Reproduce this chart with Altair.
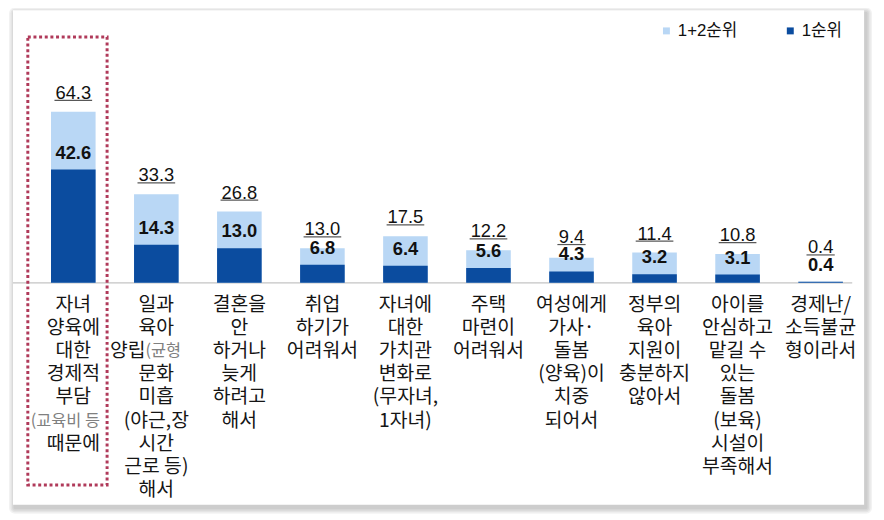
import altair as alt
import pandas as pd

# ---------------- data ----------------
CAT_LINES = [
    ["자녀", "양육에", "대한", "경제적", "부담", "(교육비 등", "때문에"],
    ["일과", "육아", ("양립", "(균형"), "문화", "미흡", "(야근,장", "시간", "근로 등)", "해서"],
    ["결혼을", "안", "하거나", "늦게", "하려고", "해서"],
    ["취업", "하기가", "어려워서"],
    ["자녀에", "대한", "가치관", "변화로", "(무자녀,", "1자녀)"],
    ["주택", "마련이", "어려워서"],
    ["여성에게", "가사·", "돌봄", "(양육)이", "치중", "되어서"],
    ["정부의", "육아", "지원이", "충분하지", "않아서"],
    ["아이를", "안심하고", "맡길 수", "있는", "돌봄", "(보육)", "시설이", "부족해서"],
    ["경제난/", "소득불균", "형이라서"],
]
TOP2 = [64.3, 33.3, 26.8, 13.0, 17.5, 12.2, 9.4, 11.4, 10.8, 0.4]
TOP1 = [42.6, 14.3, 13.0, 6.8, 6.4, 5.6, 4.3, 3.2, 3.1, 0.4]
SERIES = ["1+2순위", "1순위"]
GREY_PARTS = ["(교육비 등", "(균형"]

keys = ["".join(p if isinstance(p, str) else "".join(p) for p in lines) for lines in CAT_LINES]

bars_df = pd.DataFrame(
    [{"cat": k, "series": SERIES[0], "value": v} for k, v in zip(keys, TOP2)]
    + [{"cat": k, "series": SERIES[1], "value": v} for k, v in zip(keys, TOP1)]
)
labs_df = pd.DataFrame({"cat": keys, "top2": TOP2, "top1": TOP1})
rows = []
for k, lines in zip(keys, CAT_LINES):
    for i, ln in enumerate(lines):
        if isinstance(ln, tuple):
            rows.append({"cat": k, "line": i, "text": ln[0], "kind": "L"})
            rows.append({"cat": k, "line": i, "text": ln[1], "kind": "R"})
        else:
            rows.append({"cat": k, "line": i, "text": ln, "kind": "g" if ln in GREY_PARTS else "n"})
lines_df = pd.DataFrame(rows)

# ---------------- styles ----------------
LIGHT = "#b9d7f5"
DARK = "#0b4c9f"
NUMFONT = "Liberation Sans, Arial, Noto Sans CJK KR"
KFONT = "Noto Sans CJK KR"

W, H = 838, 188
X = alt.X("cat:N", sort=keys, scale=alt.Scale(paddingInner=0, paddingOuter=0), axis=None)
YS = alt.Scale(domain=[0, 70], nice=False, zero=True)
YL = alt.Y("line:Q", scale=alt.Scale(domain=[0, 8], range=[210, 397.2], nice=False, zero=False), axis=None)


def box(x1, x2, y1, y2, **mk):
    return alt.Chart(alt.Data(values=[{}])).mark_rect(**mk).encode(
        x=alt.value(x1), x2=alt.value(x2), y=alt.value(y1), y2=alt.value(y2)
    )


# frame with soft shadow
PX1, PX2, PY1, PY2 = -19, 840, -87, 412
shadows = [
    box(PX1 + 2 - s, PX2 + 2 + s, PY1 + 3 - s, PY2 + 3 + s, fill="#000000", opacity=0.05, cornerRadius=s)
    for s in (6, 4.5, 3, 1.5)
]
panel = box(PX1, PX2, PY1, PY2, fill="#ffffff")

baseline = alt.Chart(alt.Data(values=[{}])).mark_rule(color="#c4c4c4", strokeWidth=1.2).encode(
    x=alt.value(-19), x2=alt.value(828), y=alt.value(H)
)

bars = alt.Chart(bars_df).mark_bar(size=45).encode(
    x=X,
    y=alt.Y("value:Q", scale=YS, axis=None, stack=None),
    color=alt.Color(
        "series:N",
        scale=alt.Scale(domain=SERIES, range=[LIGHT, DARK]),
        legend=alt.Legend(
            orient="none", legendX=632, legendY=-75, direction="horizontal", title=None,
            symbolType="square", symbolSize=49, symbolStrokeWidth=0, labelFontSize=17,
            labelFont=NUMFONT, labelColor="#111111", labelOffset=3, columnPadding=44, padding=0,
        ),
    ),
)

base_labs = alt.Chart(labs_df).transform_calculate(
    tpos="max(datum.top2, datum.top1 + 5.8)",
    ulen="length(format(datum.top2, '.1f')) * 9.5",
)

total_text = base_labs.mark_text(
    dy=-13, baseline="alphabetic", fontSize=18.5, font=NUMFONT, color="#111111"
).encode(x=X, y=alt.Y("tpos:Q", scale=YS, axis=None), text=alt.Text("top2:Q", format=".1f"))

underline = base_labs.mark_tick(thickness=1.2, yOffset=-11.5, color="#111111").encode(
    x=X, y=alt.Y("tpos:Q", scale=YS, axis=None), size=alt.Size("ulen:Q", scale=None)
)

first_text = base_labs.mark_text(
    dy=-11, baseline="alphabetic", fontSize=18.5, font=NUMFONT, fontWeight="bold", color="#111111"
).encode(x=X, y=alt.Y("top1:Q", scale=YS, axis=None), text=alt.Text("top1:Q", format=".1f"))

lab_base = alt.Chart(lines_df)
lab_n = lab_base.transform_filter("datum.kind == 'n'").mark_text(
    baseline="middle", fontSize=19.5, font=KFONT, color="#151515"
).encode(x=X, y=YL, text="text:N")
lab_g = lab_base.transform_filter("datum.kind == 'g'").mark_text(
    baseline="middle", fontSize=16.5, font=KFONT, color="#808080", dx=-8
).encode(x=X, y=YL, text="text:N")
lab_l = lab_base.transform_filter("datum.kind == 'L'").mark_text(
    baseline="middle", align="right", fontSize=19.5, font=KFONT, color="#151515", dx=-11
).encode(x=X, y=YL, text="text:N")
lab_r = lab_base.transform_filter("datum.kind == 'R'").mark_text(
    baseline="middle", align="left", fontSize=16.5, font=KFONT, color="#808080", dx=-11
).encode(x=X, y=YL, text="text:N")

dotted = box(-4, 76, -60, 392, fillOpacity=0, stroke="#b03a5a", strokeWidth=3, strokeDash=[3, 2.7])

chart = (
    alt.layer(
        *shadows, panel, baseline, bars, total_text, underline, first_text,
        lab_n, lab_g, lab_l, lab_r, dotted,
    )
    .resolve_scale(y="independent")
    .properties(
        width=W, height=H,
        padding={"left": 24, "top": 87, "right": 14, "bottom": 237},
        autosize="none",
        background="#ffffff",
    )
    .configure_view(strokeWidth=0)
)

chart.save("out.html", embed_options={"renderer": "svg", "actions": False})
